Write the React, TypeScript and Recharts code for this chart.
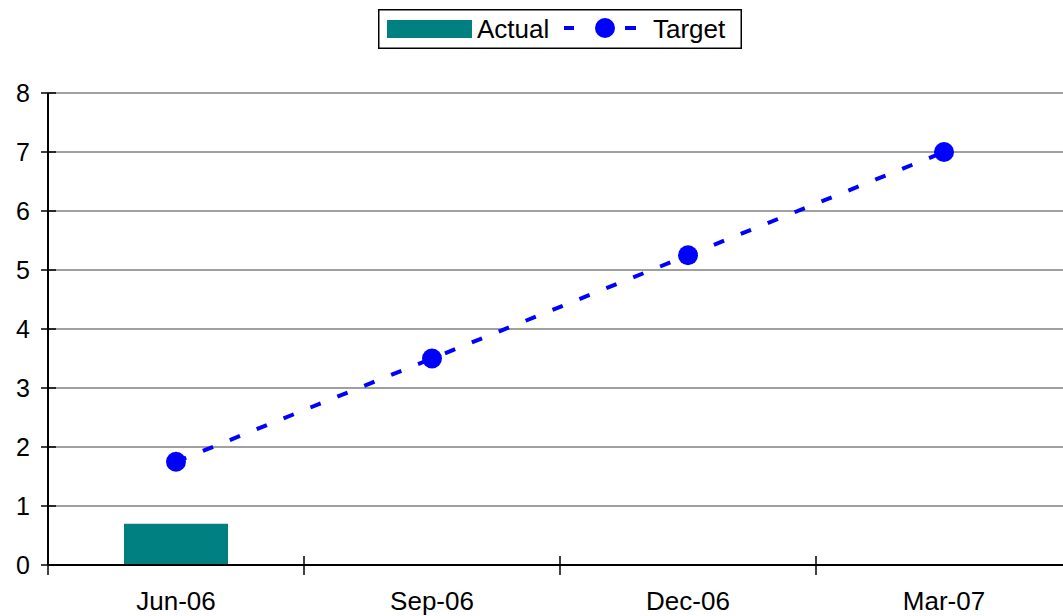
import React from 'react';
import { ComposedChart, Bar, Line, XAxis, YAxis, CartesianGrid, Legend } from 'recharts';

// Quarterly actual vs. target
const categories = ['Jun-06', 'Sep-06', 'Dec-06', 'Mar-07'];
const actualValues: (number | null)[] = [0.7, null, null, null];
const targetValues = [1.75, 3.5, 5.25, 7];
const yTicks = [0, 1, 2, 3, 4, 5, 6, 7, 8];

const data = categories.map((month, i) => ({
  month,
  actual: actualValues[i],
  target: targetValues[i],
}));

const FONT = '"Liberation Sans", Arial, sans-serif';
const TEAL = '#008080';
const BLUE = '#0000FF';

const YTick = (props: any) => {
  const { x, y, payload } = props;
  return (
    <g>
      <line x1={x - 7} x2={x + 8} y1={y} y2={y} stroke="#000" strokeWidth={1.5} />
      <text x={x - 18} y={y} dy="0.36em" textAnchor="end" fontSize={25} fontFamily={FONT} fill="#000">
        {payload.value}
      </text>
    </g>
  );
};

// Month label at the band centre, plus tick marks on the band edges
const MonthTick = (props: any) => {
  const { x, y, payload, index, visibleTicksCount } = props;
  const half = payload.offset || 0;
  const isLast = index === visibleTicksCount - 1;
  return (
    <g>
      <line x1={x - half} x2={x - half} y1={y - 9} y2={y + 10} stroke="#000" strokeWidth={1.5} />
      {isLast && <line x1={x + half} x2={x + half} y1={y - 9} y2={y + 10} stroke="#000" strokeWidth={1.5} />}
      <text x={x} y={y + 45} textAnchor="middle" fontSize={26} fontFamily={FONT} fill="#000">
        {payload.value}
      </text>
    </g>
  );
};

const LegendBox = () => (
  <svg width={364} height={40} style={{ display: 'block' }}>
    <rect x={0.75} y={0.75} width={362.5} height={38.5} fill="#fff" stroke="#000" strokeWidth={1.5} />
    <rect x={9} y={11} width={85} height={18} fill={TEAL} />
    <text x={99} y={29} fontSize={26} fontFamily={FONT} fill="#000">Actual</text>
    <line x1={186} x2={196} y1={19} y2={19} stroke={BLUE} strokeWidth={4} />
    <circle cx={227} cy={19} r={10} fill={BLUE} />
    <line x1={247} x2={258} y1={19} y2={19} stroke={BLUE} strokeWidth={4} />
    <text x={275} y={29} fontSize={26} fontFamily={FONT} fill="#000">Target</text>
  </svg>
);

export default function App() {
  return (
    <div style={{ position: 'absolute', left: 0, top: 0, width: 1063, height: 616, overflow: 'hidden', background: '#fff' }}>
      <ComposedChart
        width={1072}
        height={616}
        data={data}
        margin={{ top: 53, right: 0, bottom: 0, left: 0 }}
      >
        <CartesianGrid vertical={false} stroke="#808080" strokeWidth={1.5} />
        <XAxis
          dataKey="month"
          height={51}
          axisLine={{ stroke: '#000', strokeWidth: 2 }}
          tickLine={false}
          tickSize={0}
          tickMargin={0}
          tick={<MonthTick />}
          interval={0}
        />
        <YAxis
          domain={[0, 8]}
          ticks={yTicks}
          width={48}
          axisLine={{ stroke: '#000', strokeWidth: 2 }}
          tickLine={false}
          tickSize={0}
          tickMargin={0}
          tick={<YTick />}
          interval={0}
        />
        <Legend
          content={<LegendBox />}
          verticalAlign="top"
          wrapperStyle={{ position: 'absolute', top: 9, left: 378, width: 364, height: 40 }}
        />
        <Bar dataKey="actual" fill={TEAL} barSize={104} isAnimationActive={false} />
        <Line
          dataKey="target"
          stroke={BLUE}
          strokeWidth={4}
          strokeDasharray="11 18"
          dot={{ r: 10, fill: BLUE, stroke: 'none' }}
          activeDot={false}
          isAnimationActive={false}
        />
      </ComposedChart>
    </div>
  );
}
